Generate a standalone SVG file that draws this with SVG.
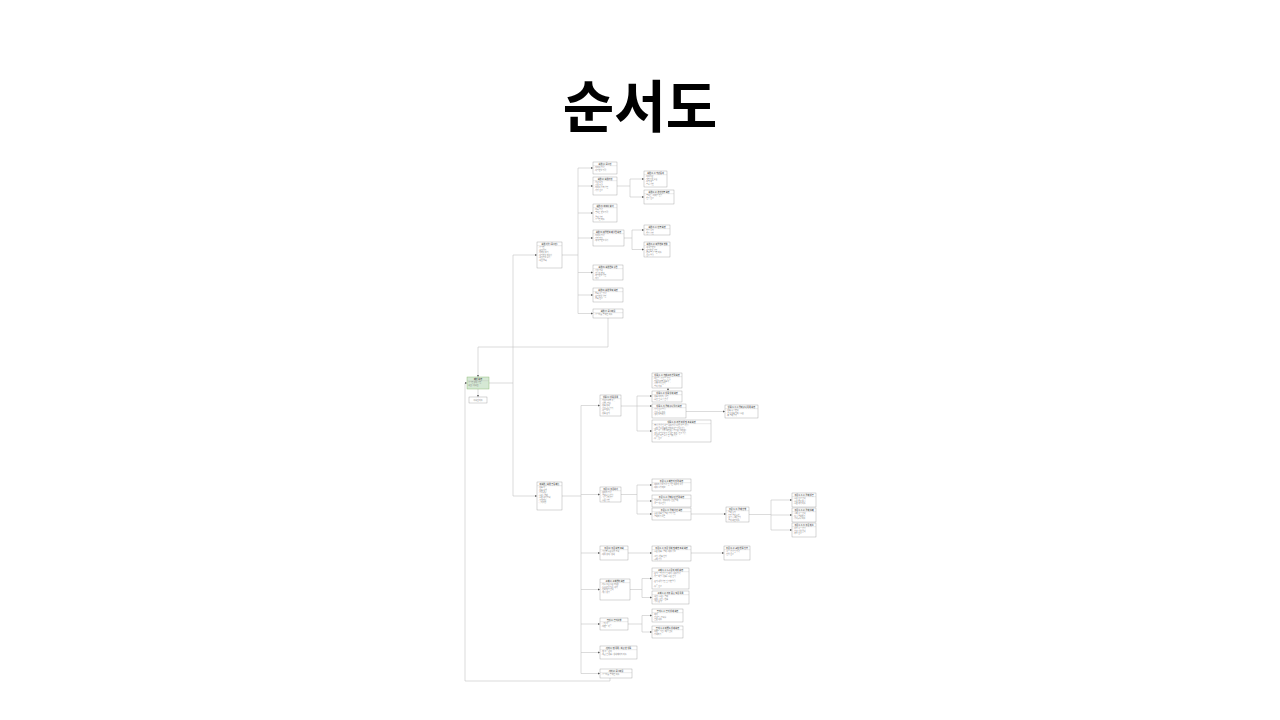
<svg xmlns="http://www.w3.org/2000/svg" width="1280" height="720" viewBox="0 0 1280 720">
<defs>
<style>
.box{fill:#ffffff;stroke:#9a9a9a;stroke-width:0.4}
.root{fill:#d5e8d4;stroke:#82b366;stroke-width:0.4}
.sep{stroke:#b8b8b8;stroke-width:0.3}
.tt{font-family:"Noto Sans CJK KR","Noto Sans",sans-serif;font-size:2.1px;font-weight:700;fill:#505050;text-anchor:middle}
.bd{font-family:"Noto Sans CJK KR","Noto Sans",sans-serif;font-size:1.9px;fill:#7a7a7a}
.cn{fill:none;stroke:#c4c4c4;stroke-width:0.6}
.ca{fill:none;stroke:#c4c4c4;stroke-width:0.6;marker-end:url(#ar)}
.title{font-family:"Noto Sans CJK KR","Noto Sans",sans-serif;font-size:56px;font-weight:700;fill:#000000;text-anchor:middle}
</style>
<marker id="ar" viewBox="0 0 4 4" refX="4" refY="2" markerWidth="2.2" markerHeight="2.2" markerUnits="userSpaceOnUse" orient="auto"><path d="M0,0L4,2L0,4z" fill="#555555"/></marker>
</defs>
<rect width="1280" height="720" fill="#ffffff"/>
<text class="title" x="640" y="127">순서도</text>

<g id="connectors">
<path class="ca" d="M489,383 H513 V255 H537"/>
<path class="ca" d="M513,383 V496 H537"/>
<path class="ca" d="M478,389 V397"/>
<path class="ca" d="M608,318 V347 H478 V377"/>
<path class="ca" d="M610,678 V681 H465 V383 H467"/>
<path class="cn" d="M562,255 H578"/>
<path class="cn" d="M578,168 V313.5"/>
<path class="ca" d="M578,168 H593"/>
<path class="ca" d="M578,186 H593"/>
<path class="ca" d="M578,213 H593"/>
<path class="ca" d="M578,238 H593"/>
<path class="ca" d="M578,272.5 H593"/>
<path class="ca" d="M578,295 H593"/>
<path class="ca" d="M578,313.5 H593"/>
<path class="cn" d="M617,186 H630 M630,179 V197"/>
<path class="ca" d="M630,179 H644"/>
<path class="ca" d="M630,197 H644"/>
<path class="cn" d="M624,238 H632 M632,230 V249.5"/>
<path class="ca" d="M632,230 H644"/>
<path class="ca" d="M632,249.5 H644"/>
<path class="cn" d="M562,496 H581 M581,405.5 V673.5"/>
<path class="ca" d="M581,405.5 H600"/>
<path class="ca" d="M581,494.5 H600"/>
<path class="ca" d="M581,553 H600"/>
<path class="ca" d="M581,589.5 H600"/>
<path class="ca" d="M581,624 H600"/>
<path class="ca" d="M581,652.5 H600"/>
<path class="ca" d="M581,673.5 H600"/>
<path class="ca" d="M621,406 H652"/>
<path class="cn" d="M637,396 V431"/>
<path class="ca" d="M637,396 H652"/>
<path class="ca" d="M637,431 H652"/>
<path class="ca" d="M668,391 V388"/>
<path class="ca" d="M686,411.5 H725"/>
<path class="cn" d="M621,494.5 H637 M637,485 V514"/>
<path class="ca" d="M637,485 H652"/>
<path class="ca" d="M637,501 H652"/>
<path class="ca" d="M637,514 H652"/>
<path class="ca" d="M691,514 H726"/>
<path class="cn" d="M749,514.5 H771 M771,500 V530"/>
<path class="ca" d="M771,500 H792"/>
<path class="ca" d="M771,515 H792"/>
<path class="ca" d="M771,530 H792"/>
<path class="ca" d="M628,553 H652"/>
<path class="ca" d="M691,553 H724"/>
<path class="cn" d="M630,589.5 H642 M642,578.5 V597.5"/>
<path class="ca" d="M642,578.5 H652"/>
<path class="ca" d="M642,597.5 H652"/>
<path class="cn" d="M628,624 H642 M642,615.5 V632"/>
<path class="ca" d="M642,615.5 H652"/>
<path class="ca" d="M642,632 H652"/>
</g>

<g id="n-root"><rect class="root" x="467" y="377" width="22" height="12"/><text class="tt" x="478" y="379.8">메인 화면</text><line class="sep" x1="467" x2="489" y1="380.7" y2="380.7"/><text class="bd"><tspan x="468.2" y="383">로그인 상태 확인</tspan><tspan x="468.2" y="385.5">회원 / 비회원</tspan></text></g>
<g id="n-guest"><rect class="box" x="469" y="397" width="18" height="6"/><text class="bd" x="478" y="400.7" text-anchor="middle">비회원 이용</text></g>

<g id="n-A"><rect class="box" x="537" y="242" width="25" height="26"/><text class="tt" x="549.5" y="244.8">회원 기능 (로그인)</text><line class="sep" x1="537" x2="562" y1="245.7" y2="245.7"/><text class="bd"><tspan x="538.2" y="248">- 로그인</tspan><tspan x="538.2" y="250.5">- 회원가입</tspan><tspan x="538.2" y="253">- 아이디 찾기</tspan><tspan x="538.2" y="255.5">- 비밀번호 재설정</tspan><tspan x="538.2" y="258">- 회원정보 수정</tspan><tspan x="538.2" y="260.5">- 회원 탈퇴</tspan></text></g>

<g id="n-T1"><rect class="box" x="593" y="162" width="24" height="12"/><text class="tt" x="605" y="164.8">회원(1) 로그인</text><line class="sep" x1="593" x2="617" y1="165.7" y2="165.7"/><text class="bd"><tspan x="594.2" y="168">- 아이디 입력</tspan><tspan x="594.2" y="170.5">- 비밀번호 입력</tspan></text></g>
<g id="n-T2"><rect class="box" x="593" y="177" width="24" height="18"/><text class="tt" x="605" y="179.8">회원(2) 회원가입</text><line class="sep" x1="593" x2="617" y1="180.7" y2="180.7"/><text class="bd"><tspan x="594.2" y="183">- 약관 동의</tspan><tspan x="594.2" y="185.5">- 정보 입력</tspan><tspan x="594.2" y="188">- 아이디 중복 확인</tspan><tspan x="594.2" y="190.5">- 가입 완료</tspan></text></g>
<g id="n-T2a"><rect class="box" x="644" y="171" width="23" height="16"/><text class="tt" x="655.5" y="173.8">회원(2-1) 약관동의</text><line class="sep" x1="644" x2="667" y1="174.7" y2="174.7"/><text class="bd"><tspan x="645.2" y="177">- 이용약관</tspan><tspan x="645.2" y="179.5">- 개인정보 수집</tspan><tspan x="645.2" y="182">- 동의 여부</tspan><tspan x="645.2" y="184.5">- 필수 확인</tspan></text></g>
<g id="n-T2b"><rect class="box" x="644" y="190" width="30" height="14"/><text class="tt" x="659" y="192.8">회원(2-2) 본인인증 화면</text><line class="sep" x1="644" x2="674" y1="193.7" y2="193.7"/><text class="bd"><tspan x="645.2" y="196">- 휴대폰 / 이메일 인증</tspan><tspan x="645.2" y="198.5">- 인증 완료</tspan></text></g>
<g id="n-T3"><rect class="box" x="593" y="204" width="24" height="18"/><text class="tt" x="605" y="206.8">회원(3) 아이디 찾기</text><line class="sep" x1="593" x2="617" y1="207.7" y2="207.7"/><text class="bd"><tspan x="594.2" y="210">- 이름 입력</tspan><tspan x="594.2" y="212.5">- 휴대폰 번호 입력</tspan><tspan x="594.2" y="217.5">- 결과 확인</tspan><tspan x="594.2" y="220">- 로그인 이동</tspan></text></g>
<g id="n-T4"><rect class="box" x="593" y="230" width="31" height="16"/><text class="tt" x="608.5" y="232.8">회원(4) 비밀번호 재설정 화면</text><line class="sep" x1="593" x2="624" y1="233.7" y2="233.7"/><text class="bd"><tspan x="594.2" y="236">- 아이디 입력</tspan><tspan x="594.2" y="238.5">- 본인 인증</tspan><tspan x="594.2" y="241">- 새 비밀번호 설정</tspan></text></g>
<g id="n-T4a"><rect class="box" x="644" y="225" width="26" height="10"/><text class="tt" x="657" y="227.8">회원(4-1) 인증 화면</text><line class="sep" x1="644" x2="670" y1="228.7" y2="228.7"/><text class="bd"><tspan x="645.2" y="231">- 인증 요청</tspan><tspan x="645.2" y="233.5">- 인증 확인</tspan></text></g>
<g id="n-T4b"><rect class="box" x="644" y="242" width="26" height="15"/><text class="tt" x="657" y="244.8">회원(4-2) 비밀번호 변경</text><line class="sep" x1="644" x2="670" y1="245.7" y2="245.7"/><text class="bd"><tspan x="645.2" y="248">- 새 비밀번호</tspan><tspan x="645.2" y="250.5">- 비밀번호 확인</tspan><tspan x="645.2" y="253">- 변경 후 로그인 이동</tspan><tspan x="645.2" y="255.5">- 완료 알림</tspan></text></g>
<g id="n-T5"><rect class="box" x="593" y="265" width="30" height="15"/><text class="tt" x="608" y="267.8">회원(5) 회원정보 수정</text><line class="sep" x1="593" x2="623" y1="268.7" y2="268.7"/><text class="bd"><tspan x="594.2" y="271">- 정보 조회</tspan><tspan x="594.2" y="273.5">- 연락처 변경</tspan><tspan x="594.2" y="276">- 비밀번호 확인</tspan><tspan x="594.2" y="278.5">- 저장</tspan></text></g>
<g id="n-T6"><rect class="box" x="593" y="288" width="30" height="14"/><text class="tt" x="608" y="290.8">회원(6) 회원 탈퇴 화면</text><line class="sep" x1="593" x2="623" y1="291.7" y2="291.7"/><text class="bd"><tspan x="594.2" y="294">- 탈퇴 사유 입력</tspan><tspan x="594.2" y="296.5">- 비밀번호 확인</tspan><tspan x="594.2" y="299">- 탈퇴 완료</tspan></text></g>
<g id="n-T7"><rect class="box" x="593" y="309" width="30" height="9"/><text class="tt" x="608" y="311.8">회원(7) 로그아웃</text><line class="sep" x1="593" x2="623" y1="312.7" y2="312.7"/><text class="bd"><tspan x="594.2" y="315">- 로그아웃 후 메인 이동</tspan></text></g>

<g id="n-B"><rect class="box" x="537" y="482" width="25" height="28"/><text class="tt" x="549.5" y="484.8">비회원 / 회원 공통 메뉴</text><line class="sep" x1="537" x2="562" y1="485.7" y2="485.7"/><text class="bd"><tspan x="538.2" y="488">- 상품 목록</tspan><tspan x="538.2" y="490.5">- 상품 검색</tspan><tspan x="538.2" y="493">- 장바구니</tspan><tspan x="538.2" y="495.5">- 주문 / 결제</tspan><tspan x="538.2" y="498">- 주문 내역 조회</tspan><tspan x="538.2" y="500.5">- 고객센터</tspan><tspan x="538.2" y="503">- 공지사항</tspan></text></g>

<g id="n-C1"><rect class="box" x="600" y="395" width="21" height="21"/><text class="tt" x="610.5" y="397.8">상품(1) 상품 목록</text><line class="sep" x1="600" x2="621" y1="398.7" y2="398.7"/><text class="bd"><tspan x="601.2" y="401">- 카테고리별 목록</tspan><tspan x="601.2" y="403.5">- 정렬 / 필터</tspan><tspan x="601.2" y="406">- 상품 상세</tspan><tspan x="601.2" y="408.5">- 장바구니 담기</tspan><tspan x="601.2" y="411">- 리뷰 보기</tspan><tspan x="601.2" y="413.5">- 상품 문의</tspan></text></g>
<g id="n-a"><rect class="box" x="652" y="373" width="30" height="15"/><text class="tt" x="667" y="375.8">상품(1-1) 카테고리 선택 화면</text><line class="sep" x1="652" x2="682" y1="376.7" y2="376.7"/><text class="bd"><tspan x="653.2" y="379">- 대분류 / 중분류 선택</tspan><tspan x="653.2" y="381.5">- 카테고리별 상품 목록</tspan><tspan x="653.2" y="384">- 정렬 방식 선택</tspan><tspan x="653.2" y="386.5">- 필터 적용</tspan></text></g>
<g id="n-b"><rect class="box" x="652" y="391" width="30" height="11"/><text class="tt" x="667" y="393.8">상품(1-2) 상품 상세 화면</text><line class="sep" x1="652" x2="682" y1="394.7" y2="394.7"/><text class="bd"><tspan x="653.2" y="397">- 상품 이미지 / 설명</tspan><tspan x="653.2" y="399.5">- 옵션 및 수량 선택</tspan></text></g>
<g id="n-c"><rect class="box" x="652" y="404" width="34" height="14"/><text class="tt" x="669" y="406.8">상품(1-3) 장바구니 담기 화면</text><line class="sep" x1="652" x2="686" y1="407.7" y2="407.7"/><text class="bd"><tspan x="653.2" y="410">- 담기 완료 알림</tspan><tspan x="653.2" y="412.5">- 장바구니 이동</tspan><tspan x="653.2" y="415">- 계속 쇼핑하기</tspan></text></g>
<g id="n-d"><rect class="box" x="725" y="405" width="33" height="13"/><text class="tt" x="741.5" y="407.8">상품(1-3-1) 장바구니 목록 화면</text><line class="sep" x1="725" x2="758" y1="408.7" y2="408.7"/><text class="bd"><tspan x="726.2" y="411">- 상품 수량 변경</tspan><tspan x="726.2" y="413.5">- 선택 상품 삭제 / 주문</tspan><tspan x="726.2" y="416">- 총 결제 금액</tspan></text></g>
<g id="n-e"><rect class="box" x="652" y="420" width="59" height="22"/><text class="tt" x="681.5" y="422.8">상품(1-4) 리뷰 작성 및 조회 화면</text><line class="sep" x1="652" x2="711" y1="423.7" y2="423.7"/><text class="bd"><tspan x="653.2" y="426">- 별점 선택 및 리뷰 내용 입력 (사진 첨부 가능)</tspan><tspan x="653.2" y="428.5">- 구매 확정 상품에 한하여 리뷰 작성 가능</tspan><tspan x="653.2" y="431">- 리뷰 목록 정렬 (최신순 / 평점순 / 추천순)</tspan><tspan x="653.2" y="433.5">- 포토 리뷰만 보기 및 리뷰 추천 / 신고 기능</tspan><tspan x="653.2" y="436">- 작성한 리뷰 수정 및 삭제 가능</tspan><tspan x="653.2" y="438.5">- 등록 완료</tspan></text></g>

<g id="n-C2"><rect class="box" x="600" y="487" width="21" height="15"/><text class="tt" x="610.5" y="489.8">주문(1) 주문하기</text><line class="sep" x1="600" x2="621" y1="490.7" y2="490.7"/><text class="bd"><tspan x="601.2" y="493">- 배송지 입력</tspan><tspan x="601.2" y="495.5">- 결제수단 선택</tspan><tspan x="601.2" y="498">- 쿠폰 / 적립금</tspan><tspan x="601.2" y="500.5">- 주문 확인</tspan></text></g>
<g id="n-f"><rect class="box" x="652" y="479" width="39" height="12"/><text class="tt" x="671.5" y="481.8">주문(1-1) 배송지 입력 화면</text><line class="sep" x1="652" x2="691" y1="482.7" y2="482.7"/><text class="bd"><tspan x="653.2" y="485">- 배송지 정보 입력 및 기본 배송지 설정</tspan><tspan x="653.2" y="487.5">- 배송 요청 메모</tspan></text></g>
<g id="n-g"><rect class="box" x="652" y="495" width="39" height="12"/><text class="tt" x="671.5" y="497.8">주문(1-2) 결제수단 선택 화면</text><line class="sep" x1="652" x2="691" y1="498.7" y2="498.7"/><text class="bd"><tspan x="653.2" y="501">- 신용카드 / 계좌이체 / 간편결제</tspan><tspan x="653.2" y="503.5">- 할부 개월 선택</tspan></text></g>
<g id="n-h"><rect class="box" x="652" y="508" width="39" height="12"/><text class="tt" x="671.5" y="510.8">주문(1-3) 결제 확인 화면</text><line class="sep" x1="652" x2="691" y1="511.7" y2="511.7"/><text class="bd"><tspan x="653.2" y="514">- 주문 상품 및 결제 금액 확인</tspan><tspan x="653.2" y="516.5">- 결제하기 버튼</tspan></text></g>
<g id="n-i"><rect class="box" x="726" y="507" width="23" height="15"/><text class="tt" x="737.5" y="509.8">주문(1-4) 결제 진행</text><line class="sep" x1="726" x2="749" y1="510.7" y2="510.7"/><text class="bd"><tspan x="727.2" y="513">- 결제 요청</tspan><tspan x="727.2" y="515.5">- 승인 결과 수신</tspan><tspan x="727.2" y="518">- 성공 / 실패 분기</tspan><tspan x="727.2" y="520.5">- 결과 화면 이동</tspan></text></g>
<g id="n-j"><rect class="box" x="792" y="493" width="24" height="14"/><text class="tt" x="804" y="495.8">주문(1-4-1) 결제 성공</text><line class="sep" x1="792" x2="816" y1="496.7" y2="496.7"/><text class="bd"><tspan x="793.2" y="499">- 주문 완료 안내</tspan><tspan x="793.2" y="501.5">- 주문 번호 표시</tspan><tspan x="793.2" y="504">- 주문 내역 이동</tspan></text></g>
<g id="n-k"><rect class="box" x="792" y="508" width="24" height="14"/><text class="tt" x="804" y="510.8">주문(1-4-2) 결제 실패</text><line class="sep" x1="792" x2="816" y1="511.7" y2="511.7"/><text class="bd"><tspan x="793.2" y="514">- 실패 사유 안내</tspan><tspan x="793.2" y="516.5">- 다시 결제하기</tspan><tspan x="793.2" y="519">- 장바구니 이동</tspan></text></g>
<g id="n-l"><rect class="box" x="792" y="523" width="24" height="14"/><text class="tt" x="804" y="525.8">주문(1-4-3) 주문 취소</text><line class="sep" x1="792" x2="816" y1="526.7" y2="526.7"/><text class="bd"><tspan x="793.2" y="529">- 취소 사유 선택</tspan><tspan x="793.2" y="531.5">- 환불 정보 안내</tspan><tspan x="793.2" y="534">- 취소 완료</tspan></text></g>

<g id="n-C3"><rect class="box" x="600" y="546" width="28" height="14"/><text class="tt" x="614" y="548.8">주문(2) 주문 내역 조회</text><line class="sep" x1="600" x2="628" y1="549.7" y2="549.7"/><text class="bd"><tspan x="601.2" y="552">- 기간별 주문 내역 조회</tspan><tspan x="601.2" y="554.5">- 배송 상태 / 상세</tspan></text></g>
<g id="n-m"><rect class="box" x="652" y="546" width="39" height="15"/><text class="tt" x="671.5" y="548.8">주문(2-1) 주문 상세 및 배송 조회 화면</text><line class="sep" x1="652" x2="691" y1="549.7" y2="549.7"/><text class="bd"><tspan x="653.2" y="552">- 주문 상품 / 결제 / 배송 정보</tspan><tspan x="653.2" y="557">- 교환 / 반품 신청</tspan><tspan x="653.2" y="559.5">- 구매 확정</tspan></text></g>
<g id="n-n"><rect class="box" x="724" y="546" width="26" height="14"/><text class="tt" x="737" y="548.8">주문(2-2) 교환/반품 신청</text><line class="sep" x1="724" x2="750" y1="549.7" y2="549.7"/><text class="bd"><tspan x="725.2" y="552">- 사유 선택 및 입력</tspan><tspan x="725.2" y="554.5">- 신청 완료</tspan></text></g>

<g id="n-C4"><rect class="box" x="600" y="579" width="30" height="21"/><text class="tt" x="615" y="581.8">고객(1) 고객센터 화면</text><line class="sep" x1="600" x2="630" y1="582.7" y2="582.7"/><text class="bd"><tspan x="601.2" y="585">- 자주 묻는 질문 (FAQ)</tspan><tspan x="601.2" y="587.5">- 1:1 문의 작성 / 내역</tspan><tspan x="601.2" y="590">- 전화 상담 안내</tspan><tspan x="601.2" y="592.5">- 채팅 상담</tspan></text></g>
<g id="n-o"><rect class="box" x="652" y="568" width="37" height="21"/><text class="tt" x="670.5" y="570.8">고객(1-1) 1:1 문의 작성 화면</text><line class="sep" x1="652" x2="689" y1="571.7" y2="571.7"/><text class="bd"><tspan x="653.2" y="574">- 문의 유형 선택 및 제목 / 내용 입력</tspan><tspan x="653.2" y="576.5">- 첨부 파일 / 상품 / 주문 선택</tspan><tspan x="653.2" y="581.5">- 문의 내역 확인 및 답변 알림</tspan><tspan x="653.2" y="586.5">- 등록 완료</tspan></text></g>
<g id="n-p"><rect class="box" x="652" y="591" width="37" height="13"/><text class="tt" x="670.5" y="593.8">고객(1-2) 자주 묻는 질문 목록</text><line class="sep" x1="652" x2="689" y1="594.7" y2="594.7"/><text class="bd"><tspan x="653.2" y="597">- 회원 / 주문 / 결제</tspan><tspan x="653.2" y="599.5">- 배송 / 교환 / 반품</tspan><tspan x="653.2" y="602">- 기타 문의</tspan></text></g>

<g id="n-C5"><rect class="box" x="600" y="618" width="28" height="12"/><text class="tt" x="614" y="620.8">공지(1) 공지사항</text><line class="sep" x1="600" x2="628" y1="621.7" y2="621.7"/><text class="bd"><tspan x="601.2" y="624">- 공지 목록</tspan><tspan x="601.2" y="626.5">- 이벤트 목록</tspan></text></g>
<g id="n-q"><rect class="box" x="652" y="609" width="31" height="13"/><text class="tt" x="667.5" y="611.8">공지(1-1) 공지 상세 화면</text><line class="sep" x1="652" x2="683" y1="612.7" y2="612.7"/><text class="bd"><tspan x="653.2" y="615">- 제목</tspan><tspan x="653.2" y="617.5">- 작성일 / 조회수</tspan><tspan x="653.2" y="620">- 본문 내용</tspan></text></g>
<g id="n-r"><rect class="box" x="652" y="626" width="31" height="12"/><text class="tt" x="667.5" y="628.8">공지(1-2) 이벤트 상세 화면</text><line class="sep" x1="652" x2="683" y1="629.7" y2="629.7"/><text class="bd"><tspan x="653.2" y="632">- 이벤트 기간 / 혜택 안내</tspan><tspan x="653.2" y="634.5">- 참여하기</tspan></text></g>

<g id="n-C6"><rect class="box" x="600" y="646" width="37" height="13"/><text class="tt" x="618.5" y="648.8">기타(1) 찜 목록 / 최근 본 상품</text><line class="sep" x1="600" x2="637" y1="649.7" y2="649.7"/><text class="bd"><tspan x="601.2" y="652">- 찜 목록 관리</tspan><tspan x="601.2" y="654.5">- 최근 본 상품 / 상세 페이지 이동</tspan></text></g>
<g id="n-C7"><rect class="box" x="600" y="669" width="32" height="9"/><text class="tt" x="616" y="671.8">기타(2) 로그아웃</text><line class="sep" x1="600" x2="632" y1="672.7" y2="672.7"/><text class="bd"><tspan x="601.2" y="675">- 로그아웃 후 메인 이동</tspan></text></g>
</svg>
